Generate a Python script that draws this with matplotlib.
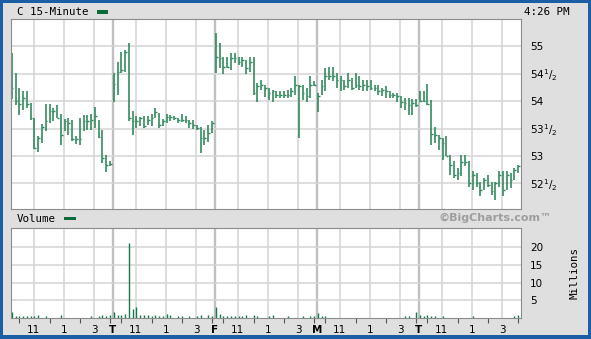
import matplotlib
matplotlib.use("Agg")
import matplotlib.pyplot as plt
import numpy as np
from matplotlib.patches import Rectangle

# ---------------- data ----------------
bars_per_day = 27
day_letters = ["T", "F", "M", "T"]
hour_labels = ["11", "1", "3"]
hour_slots = [6, 14, 22]
minor_slots = [2, 10, 18, 26]

high = [
    54.88, 54.51, 54.24, 54.18, 54.19, 53.96, 53.70, 53.36, 53.58, 53.95, 53.95, 53.87, 53.93, 53.76, 53.67, 53.70, 53.66, 53.36, 53.69, 53.75, 53.75, 53.77, 53.89, 53.66, 53.48, 53.02, 52.90,
    54.51, 54.72, 54.89, 54.94, 55.06, 53.82, 53.73, 53.71, 53.72, 53.73, 53.76, 53.88, 53.78, 53.67, 53.77, 53.75, 53.73, 53.69, 53.77, 53.73, 53.65, 53.65, 53.57, 53.52, 53.48, 53.57, 53.63,
    55.24, 55.06, 54.81, 54.81, 54.87, 54.87, 54.81, 54.81, 54.75, 54.81, 54.81, 54.33, 54.39, 54.30, 54.24, 54.21, 54.18, 54.18, 54.18, 54.21, 54.24, 54.45, 54.30, 54.30, 54.24, 54.45, 54.36,
    54.15, 54.39, 54.61, 54.63, 54.63, 54.51, 54.45, 54.39, 54.51, 54.42, 54.51, 54.45, 54.39, 54.39, 54.39, 54.30, 54.30, 54.24, 54.27, 54.18, 54.15, 54.15, 54.09, 54.06, 54.06, 54.03, 54.03,
    54.19, 54.19, 54.31, 54.02, 53.52, 53.39, 53.32, 53.36, 53.02, 52.90, 52.78, 53.01, 53.02, 52.90, 52.72, 52.69, 52.53, 52.60, 52.66, 52.53, 52.53, 52.72, 52.72, 52.72, 52.69, 52.78, 52.84,
]
low = [
    54.03, 53.93, 53.75, 53.84, 53.87, 53.66, 53.13, 53.07, 53.24, 53.45, 53.60, 53.64, 53.69, 53.20, 53.45, 53.39, 53.27, 53.22, 53.20, 53.45, 53.48, 53.48, 53.51, 53.33, 52.87, 52.70, 52.81,
    53.99, 54.11, 54.51, 54.54, 53.63, 53.38, 53.51, 53.54, 53.51, 53.57, 53.54, 53.69, 53.51, 53.54, 53.60, 53.63, 53.65, 53.60, 53.61, 53.60, 53.51, 53.49, 53.48, 53.06, 53.20, 53.26, 53.42,
    54.51, 54.60, 54.49, 54.60, 54.57, 54.69, 54.66, 54.63, 54.49, 54.54, 54.12, 53.99, 54.21, 54.08, 54.02, 53.99, 54.05, 54.05, 54.05, 54.05, 54.08, 54.12, 53.32, 54.02, 53.99, 54.05, 54.27,
    53.81, 54.12, 54.18, 54.39, 54.37, 54.24, 54.18, 54.21, 54.24, 54.21, 54.24, 54.21, 54.18, 54.18, 54.21, 54.18, 54.12, 54.09, 54.06, 54.06, 54.06, 53.99, 53.87, 53.84, 53.75, 53.75, 53.90,
    53.99, 53.99, 53.93, 53.20, 53.23, 53.11, 52.93, 52.99, 52.66, 52.60, 52.56, 52.63, 52.81, 52.44, 52.38, 52.44, 52.26, 52.38, 52.44, 52.29, 52.20, 52.44, 52.26, 52.38, 52.41, 52.56, 52.69,
]
close = [
    54.24, 54.00, 53.95, 54.06, 53.95, 53.69, 53.14, 53.33, 53.52, 53.63, 53.82, 53.82, 53.69, 53.39, 53.63, 53.60, 53.30, 53.30, 53.30, 53.64, 53.64, 53.66, 53.72, 53.34, 52.96, 52.84, 52.85,
    54.31, 54.54, 54.57, 54.89, 53.69, 53.63, 53.63, 53.69, 53.54, 53.66, 53.69, 53.81, 53.57, 53.63, 53.71, 53.71, 53.69, 53.66, 53.66, 53.66, 53.60, 53.57, 53.51, 53.32, 53.32, 53.42, 53.60,
    54.81, 54.78, 54.63, 54.63, 54.78, 54.78, 54.72, 54.75, 54.60, 54.72, 54.15, 54.27, 54.30, 54.24, 54.15, 54.18, 54.12, 54.12, 54.12, 54.12, 54.18, 54.30, 54.27, 54.15, 54.09, 54.30, 54.30,
    54.09, 54.27, 54.45, 54.45, 54.45, 54.39, 54.39, 54.27, 54.39, 54.24, 54.30, 54.27, 54.30, 54.27, 54.24, 54.24, 54.18, 54.21, 54.18, 54.12, 54.12, 54.09, 53.99, 53.96, 53.93, 53.96, 53.93,
    54.00, 54.00, 53.94, 53.40, 53.39, 53.32, 53.23, 52.99, 52.84, 52.66, 52.69, 52.89, 52.89, 52.50, 52.66, 52.50, 52.38, 52.56, 52.47, 52.35, 52.50, 52.66, 52.38, 52.66, 52.56, 52.75, 52.81,
]
volume = [
    1.8, 0.5, 0.5, 0.5, 0.5, 0.5, 0.5, 0.9, 0.0, 0.5, 0.0, 0.0, 0.0, 0.9, 0.0, 0.0, 0.0, 0.0, 0.0, 0.0, 0.0, 0.5, 0.0, 0.5, 0.9, 0.5, 0.9,
    1.8, 0.9, 0.9, 1.1, 21.2, 2.4, 3.0, 0.8, 0.8, 0.9, 0.6, 0.9, 0.5, 0.5, 1.1, 0.8, 0.0, 0.5, 0.5, 0.0, 0.5, 0.0, 0.5, 0.8, 0.0, 0.9, 0.5,
    3.0, 1.1, 0.5, 0.5, 0.5, 0.5, 0.5, 0.5, 0.9, 0.0, 0.9, 0.5, 0.0, 0.0, 0.5, 0.9, 0.0, 0.0, 0.0, 0.5, 0.0, 0.0, 0.0, 0.5, 0.0, 0.5, 0.5,
    1.4, 0.5, 0.5, 0.0, 0.0, 0.0, 0.0, 0.0, 0.0, 0.0, 0.0, 0.0, 0.0, 0.0, 0.0, 0.0, 0.0, 0.0, 0.0, 0.0, 0.0, 0.0, 0.0, 0.5, 0.5, 0.0, 1.6,
    0.9, 0.5, 0.9, 0.5, 0.5, 0.0, 0.5, 0.0, 0.0, 0.0, 0.0, 0.0, 0.0, 0.0, 0.5, 0.0, 0.0, 0.0, 0.0, 0.0, 0.0, 0.0, 0.0, 0.0, 0.0, 0.5, 0.9,
]

price_ticks = [52.5, 53, 53.5, 54, 54.5, 55]
price_tick_labels = ["52$^{1}$/$_{2}$", "53", "53$^{1}$/$_{2}$", "54", "54$^{1}$/$_{2}$", "55"]
vol_ticks = [5, 10, 15, 20]
vol_tick_labels = ["5", "10", "15", "20"]

# ---------------- style ----------------
W, H = 591, 339
green = "#2a8657"
vgreen = "#107a48"
grid_c = "#d4d4d4"
sep_c = "#c0c0c0"
spine_c = "#8c8c8c"

fig = plt.figure(figsize=(W / 100, H / 100), dpi=100)
fig.patch.set_facecolor("#1b5ea6")
fig.add_artist(Rectangle((3 / W, 4 / H), (W - 6) / W, (H - 7) / H, transform=fig.transFigure,
                         facecolor="#dfdfdf", edgecolor="none", zorder=0))

n = len(high)
x = np.arange(n)
n_days = n // bars_per_day

ax = fig.add_axes([11 / W, 1 - 209 / H, 510 / W, 190 / H])
axv = fig.add_axes([11 / W, 1 - 318 / H, 510 / W, 90 / H])

for a in (ax, axv):
    a.set_facecolor("white")
    a.set_xlim(-0.2, n - 0.25)
    for s in a.spines.values():
        s.set_color(spine_c)
        s.set_linewidth(0.8)
    grid_pos = [d * bars_per_day + s - 0.2 for d in range(n_days) for s in hour_slots]
    for gp in grid_pos:
        a.axvline(gp, color=grid_c, lw=1.1, zorder=0.5)
    for d in range(1, n_days):
        a.axvline(d * bars_per_day - 0.3, color=sep_c, lw=1.7, zorder=0.5)
    a.yaxis.tick_right()
    a.tick_params(axis="y", length=0, pad=6.5, labelsize=7.5, colors="black")
    a.grid(axis="y", color=grid_c, lw=1.1, zorder=0.5)
    a.set_axisbelow(True)

# price bars
ax.vlines(x, low, high, color=green, lw=1.15, zorder=2)
ax.hlines(close, x, x + 0.45, color=green, lw=1.0, zorder=2)
ax.set_ylim(52.03, 55.5)
ax.set_yticks(price_ticks)
ax.set_yticklabels(price_tick_labels)
ax.set_xticks([])

# volume bars
axv.vlines(x, 0, volume, color=vgreen, lw=1.0, zorder=2)
axv.set_ylim(0, 25.4)
axv.set_yticks(vol_ticks)
axv.set_yticklabels(vol_tick_labels)

major_pos, major_lab = [], []
for d in range(n_days):
    if d > 0:
        major_pos.append(d * bars_per_day - 0.3)
        major_lab.append(day_letters[d - 1])
    for s, lab in zip(hour_slots, hour_labels):
        major_pos.append(d * bars_per_day + s - 0.2)
        major_lab.append(lab)
axv.set_xticks(major_pos)
axv.set_xticklabels(major_lab)
axv.set_xticks([d * bars_per_day + s for d in range(n_days) for s in minor_slots], minor=True)
axv.tick_params(axis="x", which="major", length=0, pad=5, labelsize=7.5)
axv.tick_params(axis="x", which="minor", length=3.5, width=0.8, color="#555555")
for t in axv.get_xticklabels():
    if t.get_text() in day_letters:
        t.set_fontweight("bold")

# header texts
mono = "DejaVu Sans Mono"
fig.text(17 / W, 1 - 12 / H, "C 15-Minute", family=mono, fontsize=7.8, va="center", ha="left")
fig.add_artist(Rectangle((97 / W, 1 - 13.5 / H), 11 / W, 3 / H, transform=fig.transFigure,
                         facecolor="#0b6b3a", edgecolor="none"))
fig.text(570 / W, 1 - 12 / H, "4:26 PM", family=mono, fontsize=7.8, va="center", ha="right")
fig.text(17 / W, 1 - 218.5 / H, "Volume", family=mono, fontsize=7.8, va="center", ha="left")
fig.add_artist(Rectangle((64 / W, 1 - 219.5 / H), 12 / W, 3 / H, transform=fig.transFigure,
                         facecolor="#0b6b3a", edgecolor="none"))
fig.text(552 / W, 1 - 218 / H, "©BigCharts.com™", fontsize=8, fontweight="bold", color="#9e9e9e",
         va="center", ha="right")
fig.text(575 / W, 1 - 273 / H, "Millions", family=mono, fontsize=7.8, rotation=90,
         va="center", ha="center")

fig.savefig("out.png", dpi=100, facecolor=fig.get_facecolor())
